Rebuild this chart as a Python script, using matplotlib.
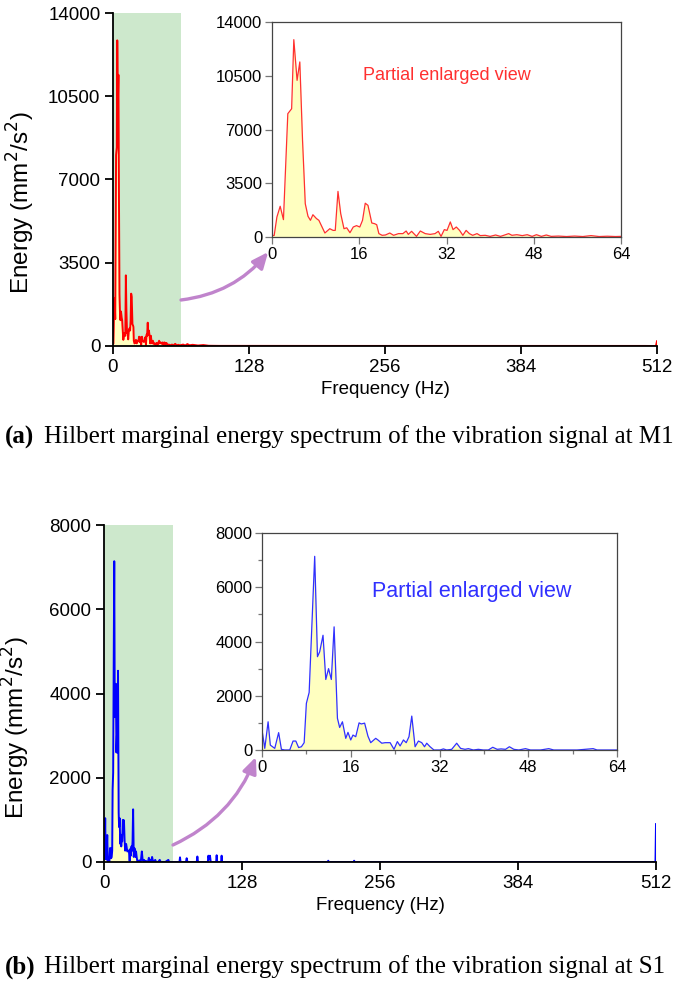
import numpy as np
import matplotlib.pyplot as plt
from matplotlib.patches import ConnectionPatch

plt.rcParams['font.family'] = ['Liberation Sans', 'DejaVu Sans']

# M1 spectrum, 0-64 Hz (read from the enlarged view)
freq_m1 = [0, 0.4, 0.9, 1.5, 2.1, 2.9, 3.6, 4.0, 4.6, 5.1,
           5.6, 6.1, 6.6, 7.05, 7.5, 8.15, 8.6, 9.7, 10.6, 11.2,
           11.6, 12.1, 12.6, 13.2, 13.7, 14.3, 14.9, 15.5, 16.1, 16.6,
           17.1, 17.6, 18.3, 18.8, 19.2, 19.6, 20.2, 20.8, 21.6, 22.3,
           23.2, 24.0, 24.6, 25.0, 25.6, 26.5, 27.2, 28.1, 29.0, 29.9,
           30.5, 31.0, 31.6, 32.1, 32.7, 33.2, 33.8, 34.4, 35.0, 35.6,
           36.2, 36.8, 37.6, 38.2, 39.1, 40.0, 41.0, 41.9, 42.5, 43.4,
           44.0, 44.9, 45.9, 46.8, 47.7, 48.5, 49.4, 50.3, 51.2, 52.5,
           54.0, 55.5, 57.0, 58.5, 60.0, 61.5, 63.0, 64.0]
energy_m1 = [100, 100, 1300, 2000, 1130, 8030, 8350, 12850, 10200, 11400,
             6300, 2170, 1350, 1085, 1450, 1200, 1085, 260, 540, 430,
             430, 2970, 1520, 540, 600, 280, 650, 740, 650, 1085,
             2200, 2060, 910, 870, 800, 220, 110, 130, 260, 110,
             220, 220, 390, 170, 370, 40, 390, 220, 170, 220,
             370, 40, 480, 430, 980, 480, 650, 430, 110, 430,
             220, 110, 220, 90, 110, 40, 130, 40, 110, 220,
             110, 150, 90, 150, 40, 150, 40, 130, 40, 60,
             30, 60, 30, 90, 30, 50, 30, 40]
# M1 tail, 64-512 Hz
freq_m1_tail = [66, 68, 70, 72, 75, 80, 85, 90, 100, 128, 200, 300, 400, 500, 510, 511, 512]
energy_m1_tail = [60, 20, 80, 30, 50, 20, 40, 10, 5, 5, 3, 3, 3, 3, 0, 0, 200]

# S1 spectrum, 0-64 Hz
freq_s1 = [0, 0.5, 1.1, 1.5, 2.3, 3.0, 3.5, 4.1, 5.0, 5.6,
           6.1, 6.6, 7.1, 7.6, 8.0, 8.5, 9.5, 10.0, 10.4, 11.0,
           11.5, 12.0, 12.5, 13.0, 13.6, 14.0, 14.5, 15.1, 15.5, 16.0,
           16.4, 16.9, 17.5, 17.9, 18.5, 19.1, 19.6, 20.5, 20.9, 21.6,
           22.2, 23.1, 23.8, 24.4, 24.9, 25.5, 26.0, 26.5, 27.0, 27.6,
           28.2, 28.8, 29.3, 29.7, 30.3, 31.0, 32.1, 32.7, 33.3, 34.2,
           35.1, 35.8, 36.6, 37.2, 38.1, 39.0, 39.9, 40.8, 41.6, 42.4,
           43.1, 43.9, 44.6, 45.4, 46.3, 47.5, 48.4, 50.2, 51.7, 52.6,
           56.8, 59.7, 60.4, 64.0]
energy_s1 = [740, 60, 1040, 180, 60, 640, 25, 0, 0, 330,
             330, 90, 120, 270, 1720, 2120, 7140, 3440, 3620, 4230,
             2600, 3000, 2600, 4540, 1170, 830, 1040, 430, 650, 370,
             550, 490, 1000, 960, 990, 510, 270, 430, 370, 250,
             270, 270, 25, 310, 150, 370, 270, 490, 1250, 120,
             330, 270, 120, 250, 120, 0, 0, 40, 0, 25,
             250, 60, 25, 50, 0, 25, 0, 0, 100, 25,
             40, 25, 120, 25, 0, 50, 0, 0, 50, 0,
             0, 50, 0, 0]
# S1 tail, 64-512 Hz
freq_s1_tail = [64.5, 70, 70.5, 71, 76, 76.7, 77.4, 86, 86.6, 87.2,
                96.3, 96.8, 97.5, 98.3, 99, 104, 104.5, 105, 108.6, 109.1,
                109.6, 207.5, 208, 208.5, 231.5, 232, 232.5, 300, 400, 511,
                511.5, 512]
energy_s1_tail = [0, 0, 110, 0, 0, 90, 0, 0, 130, 0,
                  0, 150, 60, 150, 0, 0, 160, 0, 0, 150,
                  0, 0, 30, 0, 0, 30, 0, 0, 0, 0,
                  0, 900]

captions = ["Hilbert marginal energy spectrum of the vibration signal at M1",
            "Hilbert marginal energy spectrum of the vibration signal at S1"]

GREEN = "#cde8cc"
YELLOW = "#ffffc0"
PURPLE = "#c084cc"

W, H = 685, 999
fig = plt.figure(figsize=(W / 100, H / 100), dpi=100)


def box(l, t, r, b):
    # pixel box -> figure fraction
    return [l / W, 1 - b / H, (r - l) / W, (b - t) / H]


def panel(main_box, ins_box, f, e, ft, et, color, ins_color, ymax, ystep,
          ins_minor, ymin_step, txt_pos, txt_size, label_xy, arrow_a, arrow_b):
    ax = fig.add_axes(box(*main_box))
    fx = np.array(f + ft)
    ex = np.array(e + et)
    ax.axvspan(0, 64, color=GREEN, lw=0, zorder=0)
    ax.fill_between(fx, 0, ex, color=YELLOW, lw=0, zorder=1)
    ax.plot(fx, ex, color=color, lw=1.4, zorder=2)
    ax.set_xlim(0, 512)
    ax.set_ylim(0, ymax)
    ax.set_xticks(np.arange(0, 513, 128))
    ax.set_yticks(np.arange(0, ymax + 1, ystep))
    for s in ['top', 'right']:
        ax.spines[s].set_visible(False)
    for s in ['left', 'bottom']:
        ax.spines[s].set_linewidth(1.3)
    ax.tick_params(direction='out', length=6, width=1.3, labelsize=13.5, pad=3)
    ax.set_xlabel("Frequency (Hz)", fontsize=13.5, labelpad=4)
    ax.set_ylabel("Energy (mm$^2$/s$^2$)", fontsize=17.5)
    ax.yaxis.set_label_coords(*label_xy)

    ai = fig.add_axes(box(*ins_box))
    fi = np.array(f)
    ei = np.array(e)
    ai.fill_between(fi, 0, ei, color=YELLOW, lw=0)
    ai.plot(fi, ei, color=ins_color, lw=0.9)
    ai.set_xlim(0, 64)
    ai.set_ylim(0, ymax)
    ai.set_xticks(np.arange(0, 65, 16))
    ai.set_yticks(np.arange(0, ymax + 1, ystep))
    if ins_minor:
        ai.set_xticks(np.arange(0, 65, 8), minor=True)
        ai.set_yticks(np.arange(0, ymax + 1, ymin_step), minor=True)
    for s in ai.spines.values():
        s.set_linewidth(0.9)
        s.set_color('#444444')
    ai.tick_params(direction='out', length=5, width=0.9, color='#777777',
                   labelsize=12, pad=2)
    ai.tick_params(which='minor', direction='out', length=3, width=0.9, color='#777777')
    ai.text(txt_pos[0], txt_pos[1], "Partial enlarged view", color=ins_color,
            fontsize=txt_size, ha='center', va='center', transform=ai.transAxes)

    con = ConnectionPatch(xyA=arrow_a, coordsA=ax.transData,
                          xyB=arrow_b, coordsB=ai.transData,
                          arrowstyle="-|>,head_length=0.8,head_width=0.35",
                          connectionstyle="arc3,rad=0.2",
                          color=PURPLE, lw=2.4, mutation_scale=12)
    fig.add_artist(con)
    return ax, ai


panel((113, 13, 657, 346), (272, 22, 621, 237), freq_m1, energy_m1,
      freq_m1_tail, energy_m1_tail, 'red', '#ff3030', 14000, 3500, False, 1750,
      (0.50, 0.75), 13, (-0.14, 0.43), (64, 1934), (-0.7, -977))
panel((104, 525, 656, 862), (262, 533, 617, 750), freq_s1, energy_s1,
      freq_s1_tail, energy_s1_tail, 'blue', '#3030ff', 8000, 2000, True, 1000,
      (0.59, 0.73), 15.5, (-0.13, 0.40), (64, 404), (-1.1, -258))

for i, (yc, lab) in enumerate([(437, "(a)"), (967, "(b)")]):
    fig.text(5 / W, 1 - yc / H, lab, fontsize=18, fontweight='bold',
             family='Liberation Serif', ha='left', va='center')
    fig.text(44 / W, 1 - yc / H, captions[i], fontsize=18,
             family='Liberation Serif', ha='left', va='center')

fig.savefig("out.png", dpi=100)
